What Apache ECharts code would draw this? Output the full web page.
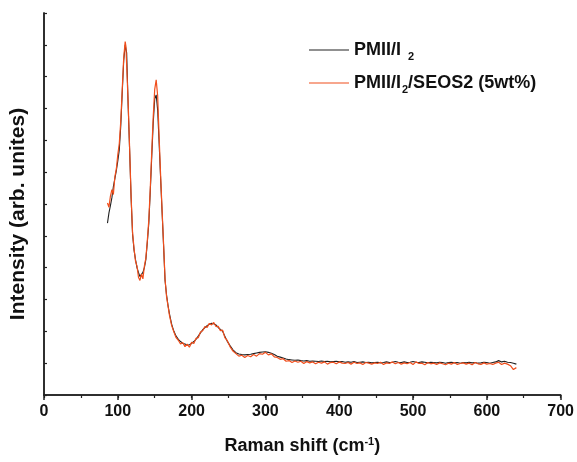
<!DOCTYPE html>
<html>
<head>
<meta charset="utf-8">
<script src="https://cdn.jsdelivr.net/npm/echarts@6/dist/echarts.min.js"></script>
<style>html,body{margin:0;padding:0;background:#fff}#c{width:577px;height:462px}</style>
</head>
<body>
<div id="c"></div>
<script>
// Wavenumbers (cm-1)
var wavenumbers = [
 86,88,90,92,94,96,98,100,102,104,106,108,110,111,112,114,116,118,120,122,124,126,128,130,132,134,136,138,140,142,144,146,148,150,152,154,156,158,160,162,164,166,168,170,
 173,176,179,182,185,188,191,194,197,200,203,206,209,212,215,218,221,224,227,230,233,236,239,242,245,248,
 252,256,260,264,268,272,276,280,284,288,
 292,296,300,304,308,312,316,320,324,328,
 332,336,340,344,348,352,356,360,364,368,
 372,376,380,384,388,392,396,400,404,408,
 412,416,420,424,428,432,436,440,444,448,
 452,456,460,464,468,472,476,480,484,488,
 492,496,500,504,508,512,516,520,524,528,
 532,536,540,544,548,552,556,560,564,568,
 572,576,580,584,588,592,596,600,604,608,
 612,616,620,624,628,632,636,640
];
// PMII/I2 intensity (arb.)
var pmiiValues = [
 5.40,5.72,5.95,6.20,6.55,6.80,7.05,7.35,7.70,8.45,9.50,10.50,11.00,11.05,10.75,9.10,7.70,6.20,5.05,4.55,4.25,4.00,3.85,3.72,3.75,3.85,4.00,4.25,4.80,5.40,6.40,7.50,8.55,9.30,9.43,8.95,7.90,6.80,5.75,4.70,3.60,3.15,2.82,2.55,
 2.22,2.00,1.85,1.75,1.68,1.62,1.60,1.57,1.58,1.62,1.68,1.75,1.85,1.95,2.05,2.12,2.18,2.22,2.25,2.24,2.20,2.12,2.06,2.00,1.85,1.70,
 1.55,1.42,1.33,1.29,1.27,1.26,1.27,1.28,1.30,1.32,
 1.34,1.35,1.36,1.34,1.31,1.27,1.22,1.19,1.16,1.13,
 1.11,1.10,1.09,1.10,1.08,1.07,1.08,1.06,1.07,1.06,
 1.05,1.07,1.05,1.06,1.04,1.05,1.06,1.04,1.05,1.03,
 1.04,1.03,1.05,1.02,1.03,1.04,1.02,1.03,1.01,1.02,
 1.03,1.01,1.02,1.04,1.02,1.03,1.05,1.03,1.02,1.04,
 1.02,1.03,1.05,1.03,1.02,1.04,1.03,1.01,1.03,1.02,
 1.01,1.03,1.02,1.00,1.02,1.03,1.01,1.02,1.00,1.02,
 1.01,1.03,1.01,1.02,1.00,1.01,1.03,1.02,1.00,1.02,
 1.04,1.08,1.04,1.06,1.03,1.02,1.00,0.97
];
// PMII/I2/SEOS2 (5wt%) intensity (arb.)
var seosValues = [
 6.03,5.90,6.25,6.45,6.30,6.85,7.10,7.55,7.90,8.60,9.60,10.60,11.10,10.95,10.90,9.20,7.75,6.25,5.10,4.60,4.20,4.05,3.70,3.60,3.80,3.65,4.05,4.30,4.85,5.50,6.50,7.65,8.75,9.60,9.90,9.40,8.10,6.90,5.80,4.75,3.65,3.10,2.80,2.50,
 2.18,1.98,1.80,1.72,1.60,1.65,1.52,1.60,1.50,1.66,1.62,1.78,1.80,1.98,2.02,2.15,2.12,2.25,2.20,2.28,2.15,2.16,2.02,2.04,1.80,1.72,
 1.52,1.38,1.30,1.22,1.25,1.18,1.24,1.20,1.27,1.22,
 1.30,1.28,1.34,1.26,1.29,1.20,1.18,1.12,1.14,1.06,
 1.08,1.02,1.07,1.03,1.06,0.99,1.05,1.01,1.04,0.98,
 1.03,1.00,1.04,0.97,1.02,1.03,0.98,1.04,1.00,0.99,
 1.02,0.97,1.03,0.99,1.01,0.96,1.02,1.00,0.97,1.01,
 0.99,1.03,0.96,1.01,0.99,1.04,0.98,1.02,0.97,1.01,
 0.98,1.02,0.96,1.04,0.99,1.00,0.95,1.02,0.98,1.00,
 0.96,1.01,0.98,0.95,1.00,0.97,1.02,0.96,0.99,1.01,
 0.97,1.00,0.95,1.02,0.98,0.96,1.01,0.97,0.99,0.96,
 1.00,1.03,0.96,1.00,0.97,0.92,0.80,0.86
];
var seriesNames = ['PMII/I2', 'PMII/I2/SEOS2 (5wt%)'];
var xTicks = {min: 0, max: 700, interval: 100};
var yRange = {min: 0, max: 12, interval: 1};

function pairs(ys){ return wavenumbers.map(function(x,i){ return [x, ys[i]]; }); }

var FONT = '"Liberation Sans", Arial, sans-serif';
var AX = '#222';
var richLegend = {
  b: {fontFamily: FONT, fontWeight: 'bold', fontSize: 18, color: '#111'},
  s: {fontFamily: FONT, fontWeight: 'bold', fontSize: 11, color: '#111', padding: [14, 0, 0, 1]}
};
function legendFmt(name){
  if (name === seriesNames[0]) return '{b|PMII/I}{s|  2}';
  return '{b|PMII/I}{s|2}{b|/SEOS2 (5wt%)}';
}

var chart = echarts.init(document.getElementById('c'), null, {renderer: 'canvas'});
chart.setOption({
  animation: false,
  backgroundColor: '#fff',
  grid: {left: 43, right: 15, top: 13, bottom: 67},
  legend: [
    {data: [seriesNames[0]], left: 309, top: 41, padding: 0, orient: 'vertical', icon: 'rect', itemWidth: 40, itemHeight: 1.2, itemGap: 0,
     formatter: legendFmt, textStyle: {rich: richLegend}},
    {data: [seriesNames[1]], left: 309, top: 74, padding: 0, orient: 'vertical', icon: 'rect', itemWidth: 40, itemHeight: 1.2, itemGap: 0,
     formatter: legendFmt, textStyle: {rich: richLegend}}
  ],
  xAxis: [
    {type: 'value', position: 'bottom', min: xTicks.min, max: xTicks.max, interval: xTicks.interval,
     axisLine: {lineStyle: {color: AX, width: 1.5}},
     axisTick: {inside: false, length: 5, lineStyle: {color: AX, width: 1.5}},
     minorTick: {show: true, splitNumber: 2, length: 3, lineStyle: {color: AX, width: 1.2}},
     splitLine: {show: false},
     axisLabel: {fontFamily: FONT, fontWeight: 'bold', fontSize: 16, color: '#111', margin: 9},
     name: '{a|Raman shift (cm}{p|-1}{a|)}', nameLocation: 'middle', nameGap: 41,
     nameTextStyle: {rich: {
       a: {fontFamily: FONT, fontWeight: 'bold', fontSize: 18, color: '#111'},
       p: {fontFamily: FONT, fontWeight: 'bold', fontSize: 11, color: '#111', padding: [0, 0, 10, 0]}
     }}},
    {type: 'value', position: 'top', min: xTicks.min, max: xTicks.max, interval: xTicks.interval,
     axisLine: {lineStyle: {color: AX, width: 1.5}},
     axisTick: {inside: true, length: 3, lineStyle: {color: AX, width: 1.2}},
     minorTick: {show: true, splitNumber: 2, length: 2, lineStyle: {color: AX, width: 1}},
     splitLine: {show: false}, axisLabel: {show: false}}
  ],
  yAxis: [
    {type: 'value', position: 'left', min: yRange.min, max: yRange.max, interval: yRange.interval,
     axisLine: {show: true, lineStyle: {color: AX, width: 1.5}},
     axisTick: {show: true, inside: true, length: 3, lineStyle: {color: AX, width: 1.2}},
     splitLine: {show: false}, axisLabel: {show: false},
     name: 'Intensity (arb. unites)', nameLocation: 'middle', nameGap: 15,
     nameTextStyle: {fontFamily: FONT, fontWeight: 'bold', fontSize: 21, color: '#111', padding: [0, 20, 0, 0]}},
    {type: 'value', position: 'right', min: yRange.min, max: yRange.max, interval: yRange.interval,
     axisLine: {show: true, lineStyle: {color: AX, width: 1.5}},
     axisTick: {show: false}, splitLine: {show: false}, axisLabel: {show: false}}
  ],
  series: [
    {name: seriesNames[0], type: 'line', data: pairs(pmiiValues), showSymbol: false, symbol: 'none',
     color: '#222', lineStyle: {color: '#222', width: 1.1}},
    {name: seriesNames[1], type: 'line', data: pairs(seosValues), showSymbol: false, symbol: 'none',
     color: '#f04e1c', lineStyle: {color: '#f04e1c', width: 1.2}}
  ]
});
</script>
</body>
</html>
